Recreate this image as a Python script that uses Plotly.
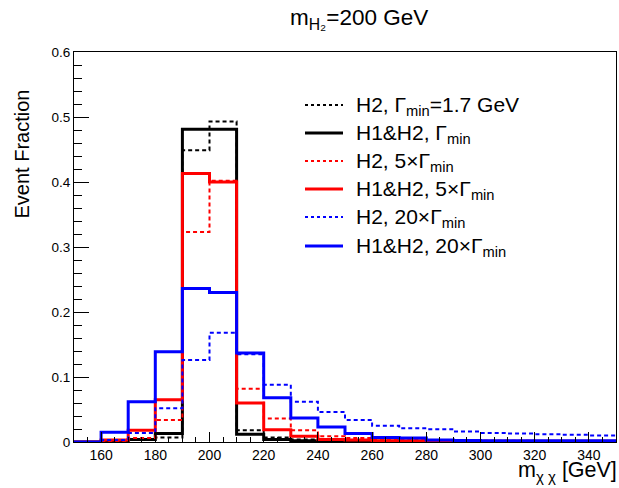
import plotly.graph_objects as go

# bin edges (GeV)
bin_edges = [150, 160, 170, 180, 190, 200, 210, 220, 230, 240, 250, 260, 270,
             280, 290, 300, 310, 320, 330, 340, 350]

h2_gmin = [0.0, 0.001, 0.003, 0.007, 0.449, 0.493, 0.018, 0.007, 0.004, 0.002,
           0.0015, 0.001, 0.001, 0.001, 0.0008, 0.0008, 0.0006, 0.0006, 0.0005, 0.0005]
h1h2_gmin = [0.0, 0.001, 0.004, 0.013, 0.481, 0.481, 0.012, 0.004, 0.002, 0.0015,
             0.001, 0.001, 0.0008, 0.0008, 0.0006, 0.0006, 0.0005, 0.0005, 0.0004, 0.0004]
h2_5g = [0.0, 0.001, 0.006, 0.034, 0.323, 0.402, 0.082, 0.036, 0.018, 0.009,
         0.006, 0.004, 0.003, 0.003, 0.002, 0.002, 0.002, 0.0015, 0.0015, 0.0015]
h1h2_5g = [0.0, 0.003, 0.018, 0.065, 0.413, 0.400, 0.060, 0.019, 0.009, 0.004,
           0.003, 0.002, 0.002, 0.0015, 0.001, 0.001, 0.001, 0.001, 0.001, 0.001]
h2_20g = [0.0, 0.003, 0.014, 0.052, 0.126, 0.168, 0.135, 0.088, 0.062, 0.046,
          0.034, 0.025, 0.021, 0.0195, 0.016, 0.014, 0.013, 0.012, 0.011, 0.010]
h1h2_20g = [0.0, 0.015, 0.062, 0.139, 0.236, 0.230, 0.137, 0.068, 0.037, 0.023,
            0.013, 0.007, 0.006, 0.003, 0.0025, 0.002, 0.002, 0.002, 0.002, 0.002]

labels = ["H2, Γ<sub>min</sub>=1.7 GeV",
          "H1&H2, Γ<sub>min</sub>",
          "H2, 5×Γ<sub>min</sub>",
          "H1&H2, 5×Γ<sub>min</sub>",
          "H2, 20×Γ<sub>min</sub>",
          "H1&H2, 20×Γ<sub>min</sub>"]
series = [h2_gmin, h1h2_gmin, h2_5g, h1h2_5g, h2_20g, h1h2_20g]
colors = ["black", "black", "#ff0000", "#ff0000", "#0000ff", "#0000ff"]
dashed = [True, False, True, False, True, False]

FONT = "Liberation Sans, Arial, sans-serif"
W, H = 619, 488
L, R, T, B = 74, 3, 52, 46
pw, ph = W - L - R, H - T - B

def px2x(px):
    return (px - L) / pw

def py2y(py):
    return (H - B - py) / ph

fig = go.Figure()
for vals, col, d, lab in zip(series, colors, dashed, labels):
    xs = list(bin_edges)
    ys = list(vals) + [vals[-1]]
    fig.add_trace(go.Scatter(
        x=xs, y=ys, mode="lines", line_shape="hv", name=lab,
        line=dict(color=col, width=2 if d else 3, dash="4px,3px" if d else "solid"),
        showlegend=False, hoverinfo="skip"))

# manual legend
row_y = [105, 133, 161, 189, 217, 246]
shapes = []
annotations = []
for yy, col, d, lab in zip(row_y, colors, dashed, labels):
    shapes.append(dict(type="line", xref="paper", yref="paper",
                       x0=px2x(305), x1=px2x(343), y0=py2y(yy), y1=py2y(yy),
                       line=dict(color=col, width=2 if d else 3,
                                 dash="3px,3px" if d else "solid")))
    annotations.append(dict(xref="paper", yref="paper", x=px2x(354), y=py2y(yy + 1),
                            xanchor="left", yanchor="middle", showarrow=False,
                            text=lab, font=dict(family=FONT, size=21, color="black")))

# title
annotations.append(dict(xref="paper", yref="paper", x=px2x(359), y=py2y(19),
                        xanchor="center", yanchor="middle", showarrow=False,
                        text="m<sub>H₂</sub>=200 GeV",
                        font=dict(family=FONT, size=22.5, color="black")))
# x title
annotations.append(dict(xref="paper", yref="paper", x=px2x(619), y=py2y(487),
                        xanchor="right", yanchor="bottom", showarrow=False,
                        text="m<sub>χ χ</sub> [GeV]",
                        font=dict(family=FONT, size=21.5, color="black")))
# y title
annotations.append(dict(xref="paper", yref="paper", x=px2x(21), y=py2y(88),
                        xanchor="center", yanchor="top", showarrow=False,
                        textangle=-90, text="Event Fraction",
                        font=dict(family=FONT, size=20, color="black")))

fig.update_layout(
    width=W, height=H,
    margin=dict(l=L, r=R, t=T, b=B),
    paper_bgcolor="white", plot_bgcolor="white",
    font=dict(family=FONT, size=13, color="black"),
    shapes=shapes, annotations=annotations,
    xaxis=dict(range=[150, 350], tick0=160, dtick=20, ticks="inside", ticklen=10,
               tickwidth=1, tickcolor="black", showline=True, linecolor="black",
               linewidth=1, mirror=True, showgrid=False, zeroline=False,
               tickfont=dict(size=14),
               minor=dict(dtick=5, ticks="inside", ticklen=5, tickcolor="black",
                          showgrid=False)),
    yaxis=dict(range=[0, 0.6], tick0=0, dtick=0.1, ticks="inside", ticklen=15,
               tickwidth=1, tickcolor="black", showline=True, linecolor="black",
               linewidth=1, mirror=True, showgrid=False, zeroline=False,
               tickfont=dict(size=13.5),
               minor=dict(dtick=0.02, ticks="inside", ticklen=8, tickcolor="black",
                          showgrid=False)),
)

fig.write_html("out.html")
